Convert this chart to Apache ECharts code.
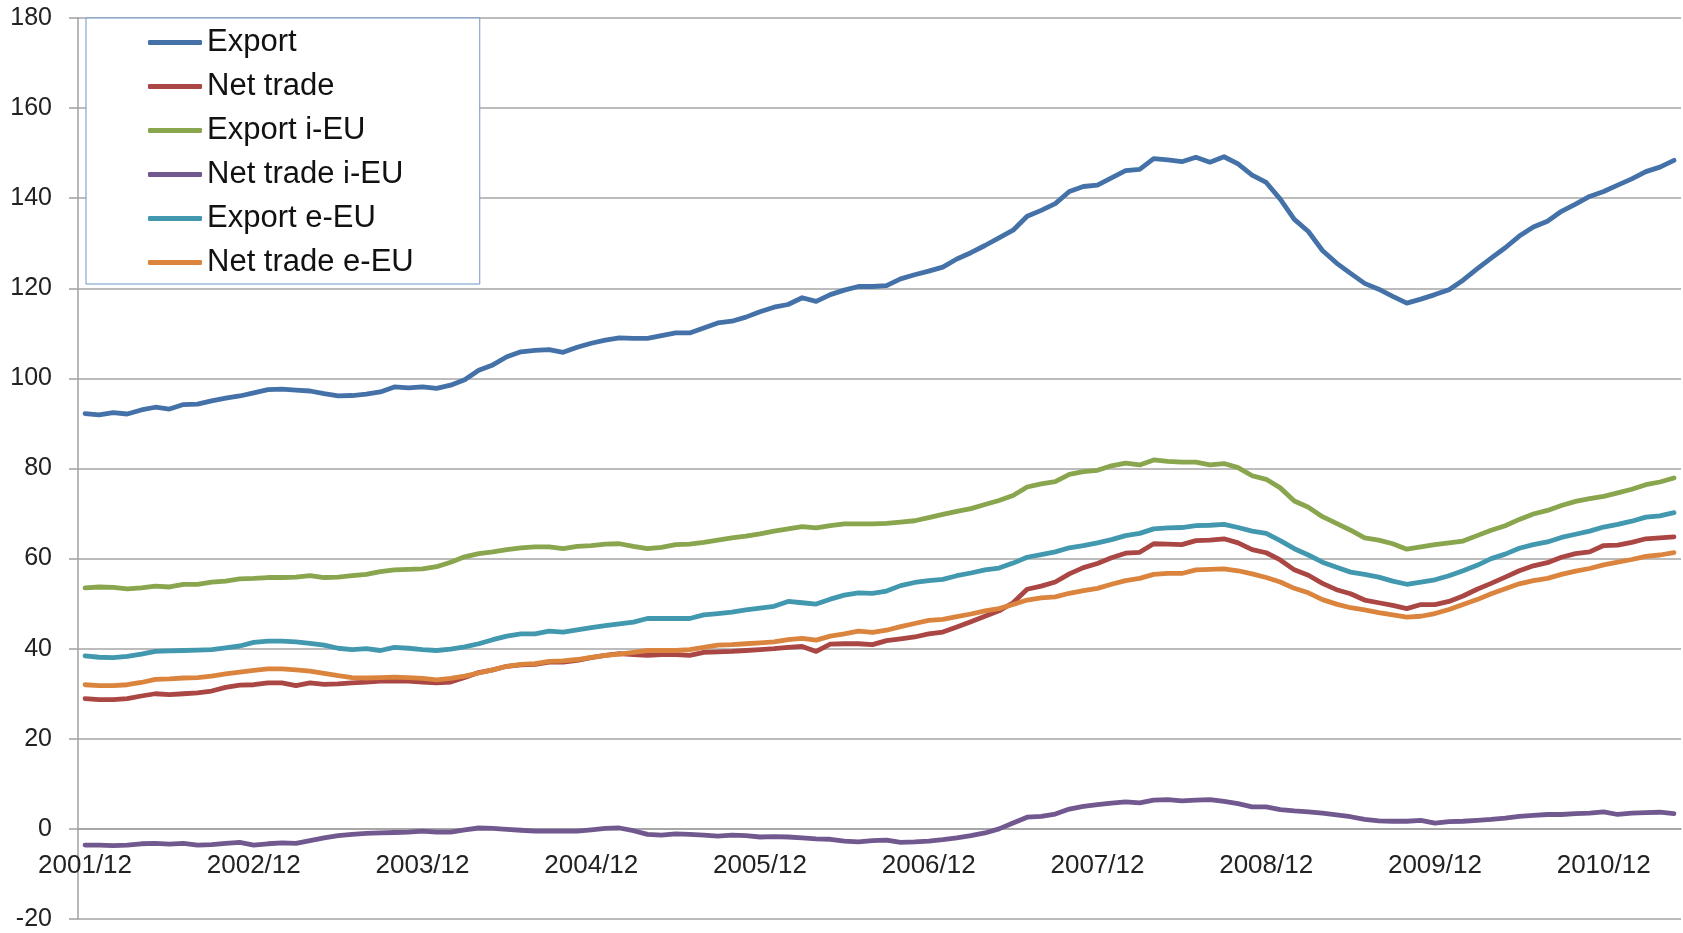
<!DOCTYPE html>
<html>
<head>
<meta charset="utf-8">
<title>Export / Net trade</title>
<script src="https://cdn.jsdelivr.net/npm/echarts@6/dist/echarts.min.js"></script>
<style>
  html, body { margin: 0; padding: 0; background: #fff; }
  #main { width: 1683px; height: 933px; }
</style>
</head>
<body>
<div id="main"></div>
<script>
// monthly, 2001/12 .. 2011/05
const startYear = 2001
const startMonth = 12
const monthCount = 114
const categories = []
for (let k = 0; k < monthCount; k++) {
  const m = (startMonth - 1 + k) % 12 + 1
  const y = startYear + Math.floor((startMonth - 1 + k) / 12)
  categories.push(y + '/' + (m < 10 ? '0' + m : m))
}

const yTicks = [-20, 0, 20, 40, 60, 80, 100, 120, 140, 160, 180]

const exportTotal = [
  92.2, 91.9, 92.4, 92.1, 93.0, 93.6, 93.2, 94.2, 94.3, 95.0, 95.6, 96.1,
  96.8, 97.5, 97.6, 97.4, 97.2, 96.6, 96.1, 96.2, 96.5, 97.0, 98.1, 97.9,
  98.1, 97.8, 98.5, 99.7, 101.8, 103.0, 104.8, 105.9, 106.2, 106.4, 105.8, 106.9,
  107.8, 108.5, 109.0, 108.9, 108.9, 109.5, 110.1, 110.1, 111.2, 112.3, 112.7, 113.6,
  114.8, 115.8, 116.4, 117.9, 117.1, 118.6, 119.6, 120.4, 120.4, 120.6, 122.1, 123.0,
  123.8, 124.7, 126.5, 127.9, 129.5, 131.2, 132.9, 136.0, 137.3, 138.8, 141.5, 142.6,
  142.9, 144.5, 146.1, 146.4, 148.8, 148.5, 148.1, 149.1, 148.0, 149.2, 147.6, 145.1,
  143.5, 139.8, 135.3, 132.6, 128.4, 125.6, 123.3, 121.1, 119.8, 118.2, 116.7, 117.6,
  118.6, 119.7, 121.8, 124.3, 126.7, 129.0, 131.6, 133.6, 134.9, 137.1, 138.7, 140.4,
  141.5, 142.9, 144.3, 145.9, 146.9, 148.4
]
const netTrade = [
  28.9, 28.7, 28.7, 28.9, 29.5, 30.0, 29.8, 30.0, 30.2, 30.6, 31.4, 31.9,
  32.0, 32.4, 32.4, 31.8, 32.4, 32.1, 32.2, 32.4, 32.6, 32.8, 32.8, 32.8,
  32.6, 32.4, 32.6, 33.6, 34.7, 35.3, 36.1, 36.4, 36.5, 37.0, 37.0, 37.4,
  38.0, 38.5, 38.9, 38.7, 38.5, 38.7, 38.7, 38.5, 39.2, 39.3, 39.4, 39.6,
  39.8, 40.0, 40.3, 40.5, 39.4, 41.0, 41.1, 41.1, 40.9, 41.8, 42.2, 42.6,
  43.3, 43.7, 44.8, 46.0, 47.2, 48.4, 50.2, 53.2, 53.9, 54.8, 56.6, 58.0,
  58.9, 60.2, 61.2, 61.4, 63.3, 63.2, 63.1, 64.0, 64.1, 64.4, 63.5, 62.0,
  61.3, 59.7, 57.5, 56.3, 54.5, 53.1, 52.2, 50.8, 50.2, 49.6, 48.9, 49.8,
  49.8, 50.5, 51.7, 53.2, 54.5, 55.9, 57.3, 58.4, 59.1, 60.3, 61.1, 61.5,
  62.9, 63.0, 63.6, 64.4, 64.6, 64.8
]
const exportIEU = [
  53.5, 53.7, 53.6, 53.3, 53.5, 53.9, 53.7, 54.3, 54.3, 54.8, 55.0, 55.5,
  55.6, 55.8, 55.8, 55.9, 56.2, 55.8, 55.9, 56.2, 56.5, 57.1, 57.5, 57.6,
  57.7, 58.2, 59.2, 60.4, 61.1, 61.5, 62.0, 62.4, 62.6, 62.6, 62.2, 62.7,
  62.9, 63.2, 63.3, 62.7, 62.2, 62.5, 63.1, 63.2, 63.6, 64.1, 64.6, 65.0,
  65.5, 66.1, 66.6, 67.1, 66.8, 67.3, 67.7, 67.7, 67.7, 67.8, 68.1, 68.4,
  69.1, 69.8, 70.5, 71.1, 72.0, 72.9, 74.0, 75.9, 76.6, 77.1, 78.7, 79.3,
  79.6, 80.6, 81.2, 80.8, 81.9, 81.6, 81.4, 81.4, 80.8, 81.1, 80.2, 78.4,
  77.6, 75.7, 72.8, 71.4, 69.3, 67.8, 66.3, 64.6, 64.1, 63.3, 62.1, 62.6,
  63.1, 63.5, 63.9, 65.1, 66.3, 67.3, 68.7, 69.9, 70.7, 71.8, 72.7, 73.3,
  73.8, 74.6, 75.4, 76.4, 77.0, 77.9
]
const netTradeIEU = [
  -3.6, -3.6, -3.7, -3.6, -3.3, -3.2, -3.4, -3.2, -3.6, -3.5, -3.2, -3.0,
  -3.6, -3.3, -3.1, -3.2, -2.6, -2.0, -1.5, -1.2, -1.0, -0.9, -0.8, -0.7,
  -0.5, -0.7, -0.7, -0.2, 0.2, 0.1, -0.1, -0.3, -0.5, -0.5, -0.5, -0.5,
  -0.2, 0.1, 0.2, -0.4, -1.2, -1.4, -1.1, -1.2, -1.4, -1.6, -1.4, -1.5,
  -1.8, -1.7, -1.8, -2.0, -2.2, -2.3, -2.7, -2.9, -2.6, -2.5, -3.0, -2.9,
  -2.7, -2.4, -2.0, -1.5, -0.9, 0.0, 1.3, 2.6, 2.8, 3.3, 4.4, 5.0,
  5.4, 5.7, 6.0, 5.8, 6.4, 6.5, 6.2, 6.4, 6.5, 6.1, 5.6, 4.9,
  4.9, 4.3, 4.0, 3.8, 3.5, 3.1, 2.7, 2.1, 1.8, 1.7, 1.7, 1.9,
  1.3, 1.6, 1.7, 1.9, 2.1, 2.4, 2.8, 3.0, 3.2, 3.2, 3.4, 3.5,
  3.8, 3.2, 3.5, 3.6, 3.7, 3.4
]
const exportEEU = [
  38.4, 38.1, 38.0, 38.3, 38.8, 39.4, 39.5, 39.6, 39.7, 39.8, 40.2, 40.6,
  41.4, 41.7, 41.7, 41.5, 41.2, 40.8, 40.1, 39.8, 40.0, 39.6, 40.3, 40.1,
  39.8, 39.6, 39.9, 40.4, 41.1, 42.0, 42.8, 43.3, 43.3, 43.9, 43.7, 44.2,
  44.7, 45.1, 45.5, 45.9, 46.7, 46.7, 46.7, 46.7, 47.5, 47.8, 48.1, 48.6,
  49.0, 49.4, 50.5, 50.2, 49.9, 51.0, 51.9, 52.4, 52.3, 52.8, 54.0, 54.7,
  55.1, 55.4, 56.2, 56.8, 57.5, 57.9, 59.0, 60.3, 60.9, 61.5, 62.4, 62.9,
  63.5, 64.2, 65.1, 65.6, 66.6, 66.8, 66.9, 67.3, 67.4, 67.6, 66.9, 66.1,
  65.6, 64.0, 62.2, 60.8, 59.2, 58.1, 57.0, 56.5, 55.9, 55.0, 54.3, 54.8,
  55.3, 56.2, 57.3, 58.5, 60.0, 61.0, 62.3, 63.1, 63.7, 64.7, 65.4, 66.1,
  67.0, 67.6, 68.3, 69.2, 69.5, 70.2
]
const netTradeEEU = [
  32.0, 31.8, 31.8, 32.0, 32.5, 33.2, 33.3, 33.5, 33.6, 33.9, 34.4, 34.8,
  35.2, 35.5, 35.5, 35.3, 35.0, 34.5, 34.0, 33.6, 33.5, 33.6, 33.7, 33.6,
  33.4, 33.1, 33.4, 33.9, 34.6, 35.3, 36.1, 36.5, 36.7, 37.2, 37.3, 37.6,
  38.1, 38.5, 38.8, 39.2, 39.6, 39.6, 39.6, 39.8, 40.3, 40.8, 40.9, 41.1,
  41.3, 41.5, 42.0, 42.3, 41.9, 42.8, 43.3, 43.9, 43.6, 44.1, 44.9, 45.6,
  46.3, 46.5, 47.1, 47.7, 48.4, 48.9, 49.8, 50.8, 51.3, 51.5, 52.3, 52.9,
  53.4, 54.3, 55.1, 55.6, 56.5, 56.7, 56.7, 57.5, 57.6, 57.7, 57.3, 56.6,
  55.8, 54.8, 53.4, 52.4, 50.9, 49.9, 49.1, 48.6, 48.0, 47.5, 47.0, 47.2,
  47.8, 48.7, 49.8, 50.9, 52.2, 53.3, 54.4, 55.1, 55.6, 56.5, 57.2, 57.8,
  58.6, 59.2, 59.8, 60.5, 60.8, 61.3
]

const seriesNames = ['Export', 'Net trade', 'Export i-EU', 'Net trade i-EU', 'Export e-EU', 'Net trade e-EU']
const seriesData = [exportTotal, netTrade, exportIEU, netTradeIEU, exportEEU, netTradeEEU]
const seriesColors = ['#4472A8', '#AA4643', '#89A54E', '#71588F', '#4198AF', '#DB843D']

const W = 1683
const H = 933
const gridTop = 18
const gridBottom = 14
const yMin = yTicks[0]
const yMax = yTicks[yTicks.length - 1]
// the category axis sits on the 0 line (like Excel), lift it up from the bottom
const zeroOffset = -(0 - yMin) / (yMax - yMin) * (H - gridTop - gridBottom)

const chart = echarts.init(document.getElementById('main'))

chart.setOption({
  animation: false,
  color: seriesColors,
  textStyle: { fontFamily: '"Liberation Sans", Arial, sans-serif' },
  grid: {
    left: 78,
    right: 2,
    top: gridTop,
    bottom: gridBottom,
    containLabel: false
  },
  legend: {
    orient: 'vertical',
    left: 86,
    top: 18,
    data: seriesNames,
    icon: 'roundRect',
    itemWidth: 54,
    itemHeight: 5,
    itemGap: 13,
    padding: [9, 66, 6, 62],
    borderColor: '#6F95C8',
    borderWidth: 1,
    backgroundColor: '#fff',
    textStyle: { fontSize: 31, color: '#111' }
  },
  xAxis: {
    type: 'category',
    data: categories,
    boundaryGap: true,
    offset: zeroOffset,
    axisLine: { onZero: false, lineStyle: { color: '#A0A0A0', width: 1.5 } },
    axisTick: { interval: 11, length: 9, lineStyle: { color: '#A0A0A0', width: 1.5 } },
    axisLabel: { interval: 11, margin: 24, fontSize: 26, color: '#222' },
    splitLine: { show: false }
  },
  yAxis: {
    type: 'value',
    min: yMin,
    max: yMax,
    interval: 20,
    axisLine: { show: true, lineStyle: { color: '#A0A0A0', width: 1.5 } },
    axisTick: { show: true, length: 9, lineStyle: { color: '#A0A0A0', width: 1.5 } },
    axisLabel: { margin: 26, fontSize: 25, color: '#222' },
    splitLine: { lineStyle: { color: '#A6A6A6', width: 1.5 } }
  },
  series: seriesNames.map((name, k) => ({
    name: name,
    type: 'line',
    data: seriesData[k],
    symbol: 'none',
    lineStyle: { width: 4.8, color: seriesColors[k], cap: 'round', join: 'round' }
  }))
})
</script>
</body>
</html>
